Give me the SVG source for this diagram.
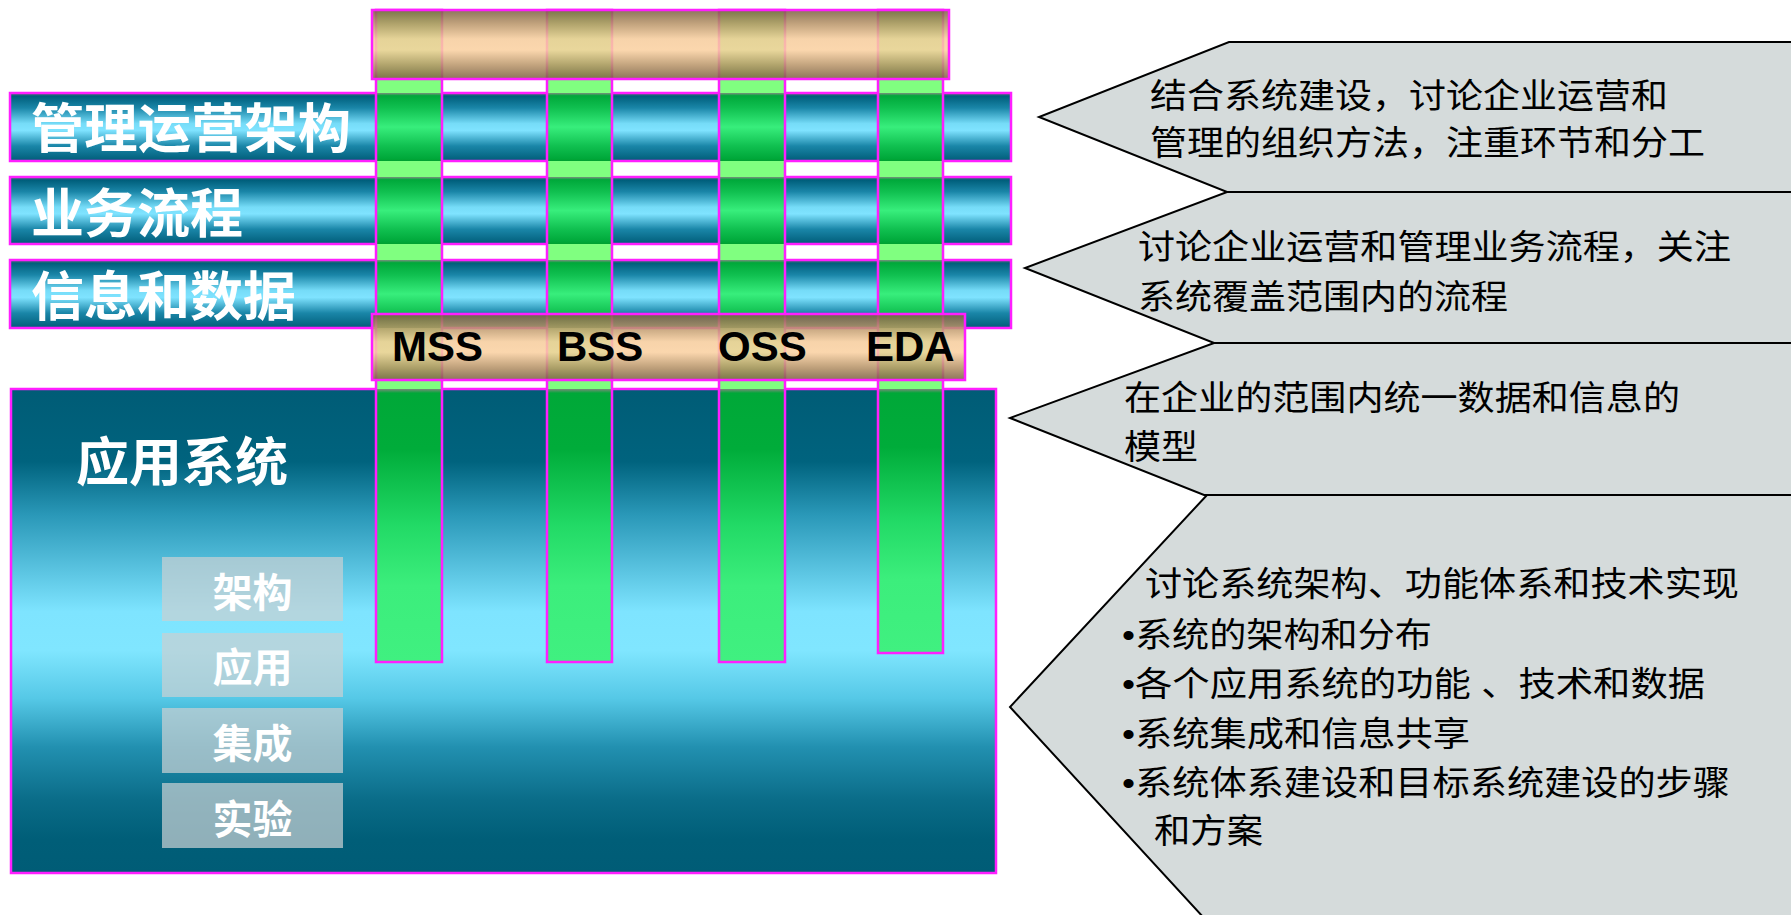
<svg xmlns="http://www.w3.org/2000/svg" width="1791" height="915" viewBox="0 0 1791 915">
<defs>
  <linearGradient id="barGrad" x1="0" y1="0" x2="0" y2="1">
    <stop offset="0" stop-color="#4E6C76"/>
    <stop offset="0.05" stop-color="#005F7C"/>
    <stop offset="0.22" stop-color="#1A86A8"/>
    <stop offset="0.45" stop-color="#76DCF8"/>
    <stop offset="0.55" stop-color="#7FE3FF"/>
    <stop offset="0.78" stop-color="#1A86A8"/>
    <stop offset="1" stop-color="#005C78"/>
  </linearGradient>
  <linearGradient id="tanGrad" x1="0" y1="0" x2="0" y2="1">
    <stop offset="0" stop-color="#7A5E40"/>
    <stop offset="0.2" stop-color="#B89468"/>
    <stop offset="0.42" stop-color="#F6CC9C"/>
    <stop offset="0.58" stop-color="#FAD0A0"/>
    <stop offset="0.8" stop-color="#B89468"/>
    <stop offset="1" stop-color="#7A5E40"/>
  </linearGradient>
  <linearGradient id="boxGrad" x1="0" y1="0" x2="0" y2="1">
    <stop offset="0" stop-color="#005C76"/>
    <stop offset="0.15" stop-color="#00637E"/>
    <stop offset="0.26" stop-color="#2A98B8"/>
    <stop offset="0.46" stop-color="#7EE4FF"/>
    <stop offset="0.54" stop-color="#80E6FF"/>
    <stop offset="0.64" stop-color="#55C8E6"/>
    <stop offset="0.74" stop-color="#2290B0"/>
    <stop offset="0.85" stop-color="#0A6C88"/>
    <stop offset="0.93" stop-color="#005E78"/>
    <stop offset="1" stop-color="#005C76"/>
  </linearGradient>
  <linearGradient id="greenBar" x1="0" y1="0" x2="0" y2="1">
    <stop offset="0" stop-color="#7E8E80"/>
    <stop offset="0.04" stop-color="#00A83A"/>
    <stop offset="0.22" stop-color="#10C050"/>
    <stop offset="0.5" stop-color="#38EE7C"/>
    <stop offset="0.78" stop-color="#10C050"/>
    <stop offset="0.96" stop-color="#00A83A"/>
    <stop offset="1" stop-color="#00A030"/>
  </linearGradient>
  <linearGradient id="greenBox" x1="0" y1="0" x2="0" y2="1">
    <stop offset="0" stop-color="#7A8A7A"/>
    <stop offset="0.015" stop-color="#00A838"/>
    <stop offset="0.22" stop-color="#00AC3A"/>
    <stop offset="0.5" stop-color="#22DA66"/>
    <stop offset="0.72" stop-color="#3CEE7C"/>
    <stop offset="1" stop-color="#40F080"/>
  </linearGradient>
</defs>
<style>
  .mag{stroke:#FF1EFF;stroke-width:2.5}
  .lg{fill:#80FF80}
  .tan{fill:url(#tanGrad);fill-opacity:0.86}
  .lbl{font-family:"Noto Sans CJK SC","Noto Sans CJK JP",sans-serif;font-weight:700;fill:#FFFFFF}
  .code{font-family:"Liberation Sans",Arial,sans-serif;font-weight:700;font-size:42px;fill:#000000}
  .note{font-family:"Liberation Sans","Noto Sans CJK SC",sans-serif;font-size:34px;fill:#000000}
  .callout{fill:#D5DBDB;stroke:#000000;stroke-width:2;stroke-linejoin:miter}
  .sub{fill:#C8D0D2;fill-opacity:0.72}
</style>

<!-- horizontal layer bars -->
<g id="bar-mgmt">
  <rect x="10" y="93" width="1001" height="68" fill="url(#barGrad)" class="mag"/>
  <text class="lbl" x="31" y="148" font-size="53" textLength="320" lengthAdjust="spacingAndGlyphs">管理运营架构</text>
</g>
<g id="bar-process">
  <rect x="10" y="177" width="1001" height="67" fill="url(#barGrad)" class="mag"/>
  <text class="lbl" x="31" y="233" font-size="53" textLength="212" lengthAdjust="spacingAndGlyphs">业务流程</text>
</g>
<g id="bar-data">
  <rect x="10" y="260" width="1001" height="68" fill="url(#barGrad)" class="mag"/>
  <text class="lbl" x="31" y="316" font-size="53" textLength="265" lengthAdjust="spacingAndGlyphs">信息和数据</text>
</g>

<!-- application system box -->
<g id="app-system">
  <rect x="11" y="389" width="985" height="484" fill="url(#boxGrad)" class="mag"/>
  <text class="lbl" x="76" y="481" font-size="52" textLength="212" lengthAdjust="spacingAndGlyphs">应用系统</text>
</g>
<g id="sub-arch">
  <rect class="sub" x="162" y="557" width="181" height="64"/>
  <text class="lbl" x="252.5" y="607" font-size="40" text-anchor="middle">架构</text>
</g>
<g id="sub-app">
  <rect class="sub" x="162" y="633" width="181" height="64"/>
  <text class="lbl" x="252.5" y="682" font-size="40" text-anchor="middle">应用</text>
</g>
<g id="sub-integ">
  <rect class="sub" x="162" y="708" width="181" height="65"/>
  <text class="lbl" x="252.5" y="758" font-size="40" text-anchor="middle">集成</text>
</g>
<g id="sub-exp">
  <rect class="sub" x="162" y="783" width="181" height="65"/>
  <text class="lbl" x="252.5" y="834" font-size="40" text-anchor="middle">实验</text>
</g>

<!-- vertical columns -->
<g id="col-mss">
  <rect x="376" y="10" width="66" height="83" class="lg"/>
  <rect x="376" y="93" width="66" height="68" fill="url(#greenBar)"/>
  <rect x="376" y="161" width="66" height="16" class="lg"/>
  <rect x="376" y="177" width="66" height="67" fill="url(#greenBar)"/>
  <rect x="376" y="244" width="66" height="16" class="lg"/>
  <rect x="376" y="260" width="66" height="68" fill="url(#greenBar)"/>
  <rect x="376" y="328" width="66" height="61" class="lg"/>
  <rect x="376" y="389" width="66" height="273" fill="url(#greenBox)"/>
  <rect x="376" y="10" width="66" height="652" fill="none" class="mag"/>
</g>
<g id="col-bss">
  <rect x="547" y="10" width="65" height="83" class="lg"/>
  <rect x="547" y="93" width="65" height="68" fill="url(#greenBar)"/>
  <rect x="547" y="161" width="65" height="16" class="lg"/>
  <rect x="547" y="177" width="65" height="67" fill="url(#greenBar)"/>
  <rect x="547" y="244" width="65" height="16" class="lg"/>
  <rect x="547" y="260" width="65" height="68" fill="url(#greenBar)"/>
  <rect x="547" y="328" width="65" height="61" class="lg"/>
  <rect x="547" y="389" width="65" height="273" fill="url(#greenBox)"/>
  <rect x="547" y="10" width="65" height="652" fill="none" class="mag"/>
</g>
<g id="col-oss">
  <rect x="719" y="10" width="66" height="83" class="lg"/>
  <rect x="719" y="93" width="66" height="68" fill="url(#greenBar)"/>
  <rect x="719" y="161" width="66" height="16" class="lg"/>
  <rect x="719" y="177" width="66" height="67" fill="url(#greenBar)"/>
  <rect x="719" y="244" width="66" height="16" class="lg"/>
  <rect x="719" y="260" width="66" height="68" fill="url(#greenBar)"/>
  <rect x="719" y="328" width="66" height="61" class="lg"/>
  <rect x="719" y="389" width="66" height="273" fill="url(#greenBox)"/>
  <rect x="719" y="10" width="66" height="652" fill="none" class="mag"/>
</g>
<g id="col-eda">
  <rect x="878" y="10" width="65" height="83" class="lg"/>
  <rect x="878" y="93" width="65" height="68" fill="url(#greenBar)"/>
  <rect x="878" y="161" width="65" height="16" class="lg"/>
  <rect x="878" y="177" width="65" height="67" fill="url(#greenBar)"/>
  <rect x="878" y="244" width="65" height="16" class="lg"/>
  <rect x="878" y="260" width="65" height="68" fill="url(#greenBar)"/>
  <rect x="878" y="328" width="65" height="61" class="lg"/>
  <rect x="878" y="389" width="65" height="264" fill="url(#greenBox)"/>
  <rect x="878" y="10" width="65" height="643" fill="none" class="mag"/>
</g>

<!-- tan bars -->
<g id="top-bar">
  <rect x="372" y="10" width="577" height="69" class="tan mag"/>
</g>
<g id="domain-bar">
  <rect x="372" y="314" width="593" height="66" class="tan mag"/>
  <text class="code" x="392" y="361">MSS</text>
  <text class="code" x="557" y="361">BSS</text>
  <text class="code" x="718" y="361">OSS</text>
  <text class="code" x="866" y="361">EDA</text>
</g>

<!-- callouts -->
<g id="callout-1">
  <polygon class="callout" points="1800,42 1229,42 1039,117 1227,192 1800,192"/>
  <text class="note" x="1150" y="108" textLength="518" lengthAdjust="spacingAndGlyphs">结合系统建设，讨论企业运营和</text>
  <text class="note" x="1150" y="155" textLength="555" lengthAdjust="spacingAndGlyphs">管理的组织方法，注重环节和分工</text>
</g>
<g id="callout-2">
  <polygon class="callout" points="1800,192 1227,192 1025,268 1214,343 1800,343"/>
  <text class="note" x="1138" y="259" textLength="593" lengthAdjust="spacingAndGlyphs">讨论企业运营和管理业务流程，关注</text>
  <text class="note" x="1138" y="309" textLength="370" lengthAdjust="spacingAndGlyphs">系统覆盖范围内的流程</text>
</g>
<g id="callout-3">
  <polygon class="callout" points="1800,343 1214,343 1010,418 1204,495 1800,495"/>
  <text class="note" x="1124" y="410" textLength="556" lengthAdjust="spacingAndGlyphs">在企业的范围内统一数据和信息的</text>
  <text class="note" x="1124" y="459" textLength="74" lengthAdjust="spacingAndGlyphs">模型</text>
</g>
<g id="callout-4">
  <polygon class="callout" points="1800,495 1207,495 1010,707 1204,918 1800,918"/>
  <text class="note" x="1145" y="596" textLength="594" lengthAdjust="spacingAndGlyphs">讨论系统架构、功能体系和技术实现</text>
  <text class="note" x="1122" y="647" textLength="310" lengthAdjust="spacingAndGlyphs">•系统的架构和分布</text>
  <text class="note" x="1122" y="696" textLength="583" lengthAdjust="spacingAndGlyphs">•各个应用系统的功能 、技术和数据</text>
  <text class="note" x="1122" y="746" textLength="348" lengthAdjust="spacingAndGlyphs">•系统集成和信息共享</text>
  <text class="note" x="1122" y="795" textLength="608" lengthAdjust="spacingAndGlyphs">•系统体系建设和目标系统建设的步骤</text>
  <text class="note" x="1154" y="843" textLength="109" lengthAdjust="spacingAndGlyphs">和方案</text>
</g>

<g id="connectors"/>
</svg>
